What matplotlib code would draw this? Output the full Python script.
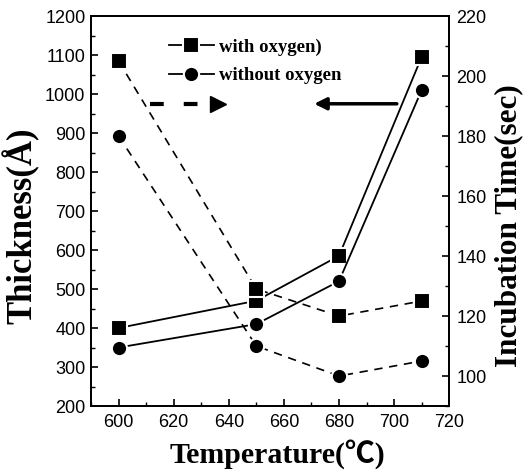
import matplotlib

matplotlib.use("Agg")
import matplotlib.pyplot as plt
from matplotlib.ticker import MultipleLocator

# temperatures (C)
temps = [600, 650, 680, 710]

# thickness (Angstrom), left axis, solid lines
thick_oxy = [400, 470, 585, 1095]
thick_nooxy = [350, 410, 520, 1010]

# incubation time (sec), right axis, dashed lines
incub_oxy = [205, 129, 120, 125]
incub_nooxy = [180, 110, 100, 105]

LABEL_FONT = ["Liberation Serif", "Noto Sans CJK SC"]
TICK_FONT = "Liberation Sans"

fig = plt.figure(figsize=(5.26, 4.73), dpi=100)
ax = fig.add_axes([0.173, 0.1416, 0.681, 0.8245])
ax2 = ax.twinx()

mk = dict(markersize=11, markeredgecolor="white", markeredgewidth=1.5, color="black")
ax.plot(temps, thick_oxy, "-s", lw=1.3, label="with oxygen)", **mk)
ax.plot(temps, thick_nooxy, "-o", lw=1.3, label="without oxygen", **mk)
ax2.plot(temps, incub_oxy, "s", ls=(0, (5, 4)), lw=1.2, **mk)
ax2.plot(temps, incub_nooxy, "o", ls=(0, (5, 4)), lw=1.2, **mk)

ax.set_xlim(590, 720)
ax.set_ylim(200, 1200)
ax2.set_ylim(90, 220)

ax.xaxis.set_major_locator(MultipleLocator(20))
ax.xaxis.set_minor_locator(MultipleLocator(10))
ax.yaxis.set_major_locator(MultipleLocator(100))
ax.yaxis.set_minor_locator(MultipleLocator(50))
ax2.yaxis.set_major_locator(MultipleLocator(20))
ax2.yaxis.set_minor_locator(MultipleLocator(10))

for a in (ax, ax2):
    a.tick_params(which="major", direction="in", length=5, width=1.2, labelsize=13)
    a.tick_params(which="minor", direction="in", length=3, width=1.0)
    for lab in a.get_xticklabels() + a.get_yticklabels():
        lab.set_fontfamily(TICK_FONT)
    for sp in a.spines.values():
        sp.set_linewidth(1.3)
ax.tick_params(axis="y", pad=4)
ax.tick_params(axis="x", pad=6)
ax2.tick_params(axis="y", pad=5)

ax.set_xlabel("Temperature(\u2103)", family=LABEL_FONT, fontweight="bold", fontsize=21.5, labelpad=6)
ax.set_ylabel("Thickness(\u00c5)", family=LABEL_FONT, fontweight="bold", fontsize=25)
ax2.set_ylabel("Incubation Time(sec)", family=LABEL_FONT, fontweight="bold", fontsize=22.5)
ax.xaxis.set_label_coords(0.52, -0.085)
ax.yaxis.set_label_coords(-0.143, 0.462)
ax2.yaxis.set_label_coords(1.125, 0.462)

ax.legend(loc="upper left", bbox_to_anchor=(0.17, 0.985), frameon=False, handlelength=2.4,
          handletextpad=0.3, labelspacing=0.6,
          prop={"family": "Liberation Serif", "weight": "bold", "size": 13.5})

# direction arrows: dashed -> right axis, solid -> left axis
ax.plot([611.4, 629.6], [975, 975], color="black", lw=3, ls=(0, (3.3, 4.8)), solid_capstyle="butt")
ax.plot([636.2], [975], marker=">", color="black", markersize=11)
ax.annotate("", xy=(670, 975), xytext=(702, 975),
            arrowprops=dict(arrowstyle="-|>", color="black", lw=2.5, mutation_scale=18))

fig.savefig("out.png", dpi=100)
